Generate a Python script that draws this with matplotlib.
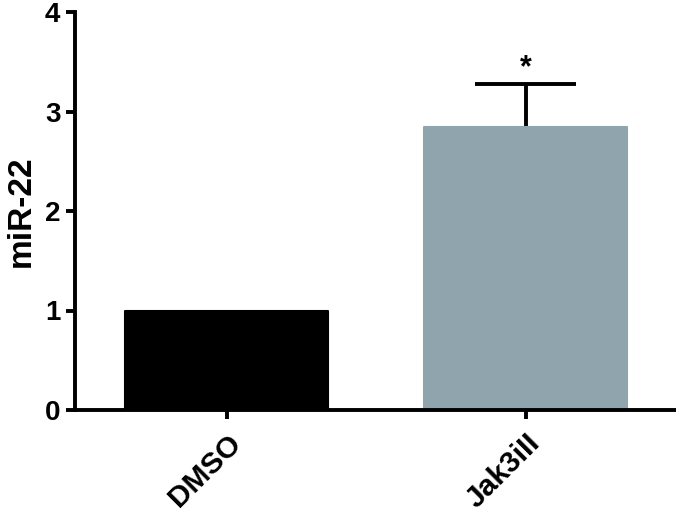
import matplotlib
matplotlib.use("Agg")
import matplotlib.pyplot as plt
from matplotlib.transforms import ScaledTranslation

plt.rcParams['font.family'] = ['Liberation Sans', 'DejaVu Sans']

# --- data ---
groups = ['DMSO', 'Jak3iII']
values = [1.0, 2.84]
err_up = [0.0, 0.44]
colors = ['#000000', '#8fa4ad']
sig = ['', '*']

fig = plt.figure(figsize=(6.76, 5.12), dpi=100)
ax = fig.add_axes([75 / 676, 102 / 512, 1 - 75 / 676, 398 / 512])

x = list(range(len(groups)))
ax.bar(x, values, width=0.68, color=colors, edgecolor=colors,
       linewidth=1.5, joinstyle='round', zorder=2)

# upper-only error bars: stem + cap
for xi, v, e in zip(x, values, err_up):
    if e > 0:
        ax.vlines(xi, v, v + e, color='black', linewidth=2.8, zorder=1)
        ax.hlines(v + e, xi - 0.17, xi + 0.17, color='black', linewidth=2.8,
                  zorder=1)

for xi, v, e, s in zip(x, values, err_up, sig):
    if s:
        ax.text(xi, v + e + 0.0, s, ha='center', va='bottom',
                fontsize=22, fontweight='bold')

ax.set_xlim(-0.507, 1.503)
ax.set_ylim(0, 4)
ax.set_yticks([0, 1, 2, 3, 4])
ax.set_xticks(x)
ax.set_xticklabels(groups, rotation=45, ha='right', rotation_mode='anchor',
                   fontsize=21.5, fontweight='bold')
shift = ScaledTranslation(-6 / 72, 0, fig.dpi_scale_trans)
for lab in ax.get_xticklabels():
    lab.set_transform(lab.get_transform() + shift)
for lab in ax.get_yticklabels():
    lab.set_fontweight('bold')
ax.tick_params(axis='y', labelsize=20, width=2.8, length=6.5, pad=4)
ax.tick_params(axis='x', width=2.8, length=6.5, pad=7)
ax.set_ylabel('miR-22', fontsize=24, fontweight='bold', labelpad=6)

for side in ['top', 'right']:
    ax.spines[side].set_visible(False)
for side in ['left', 'bottom']:
    ax.spines[side].set_linewidth(2.8)

fig.savefig('out.png', dpi=100)
